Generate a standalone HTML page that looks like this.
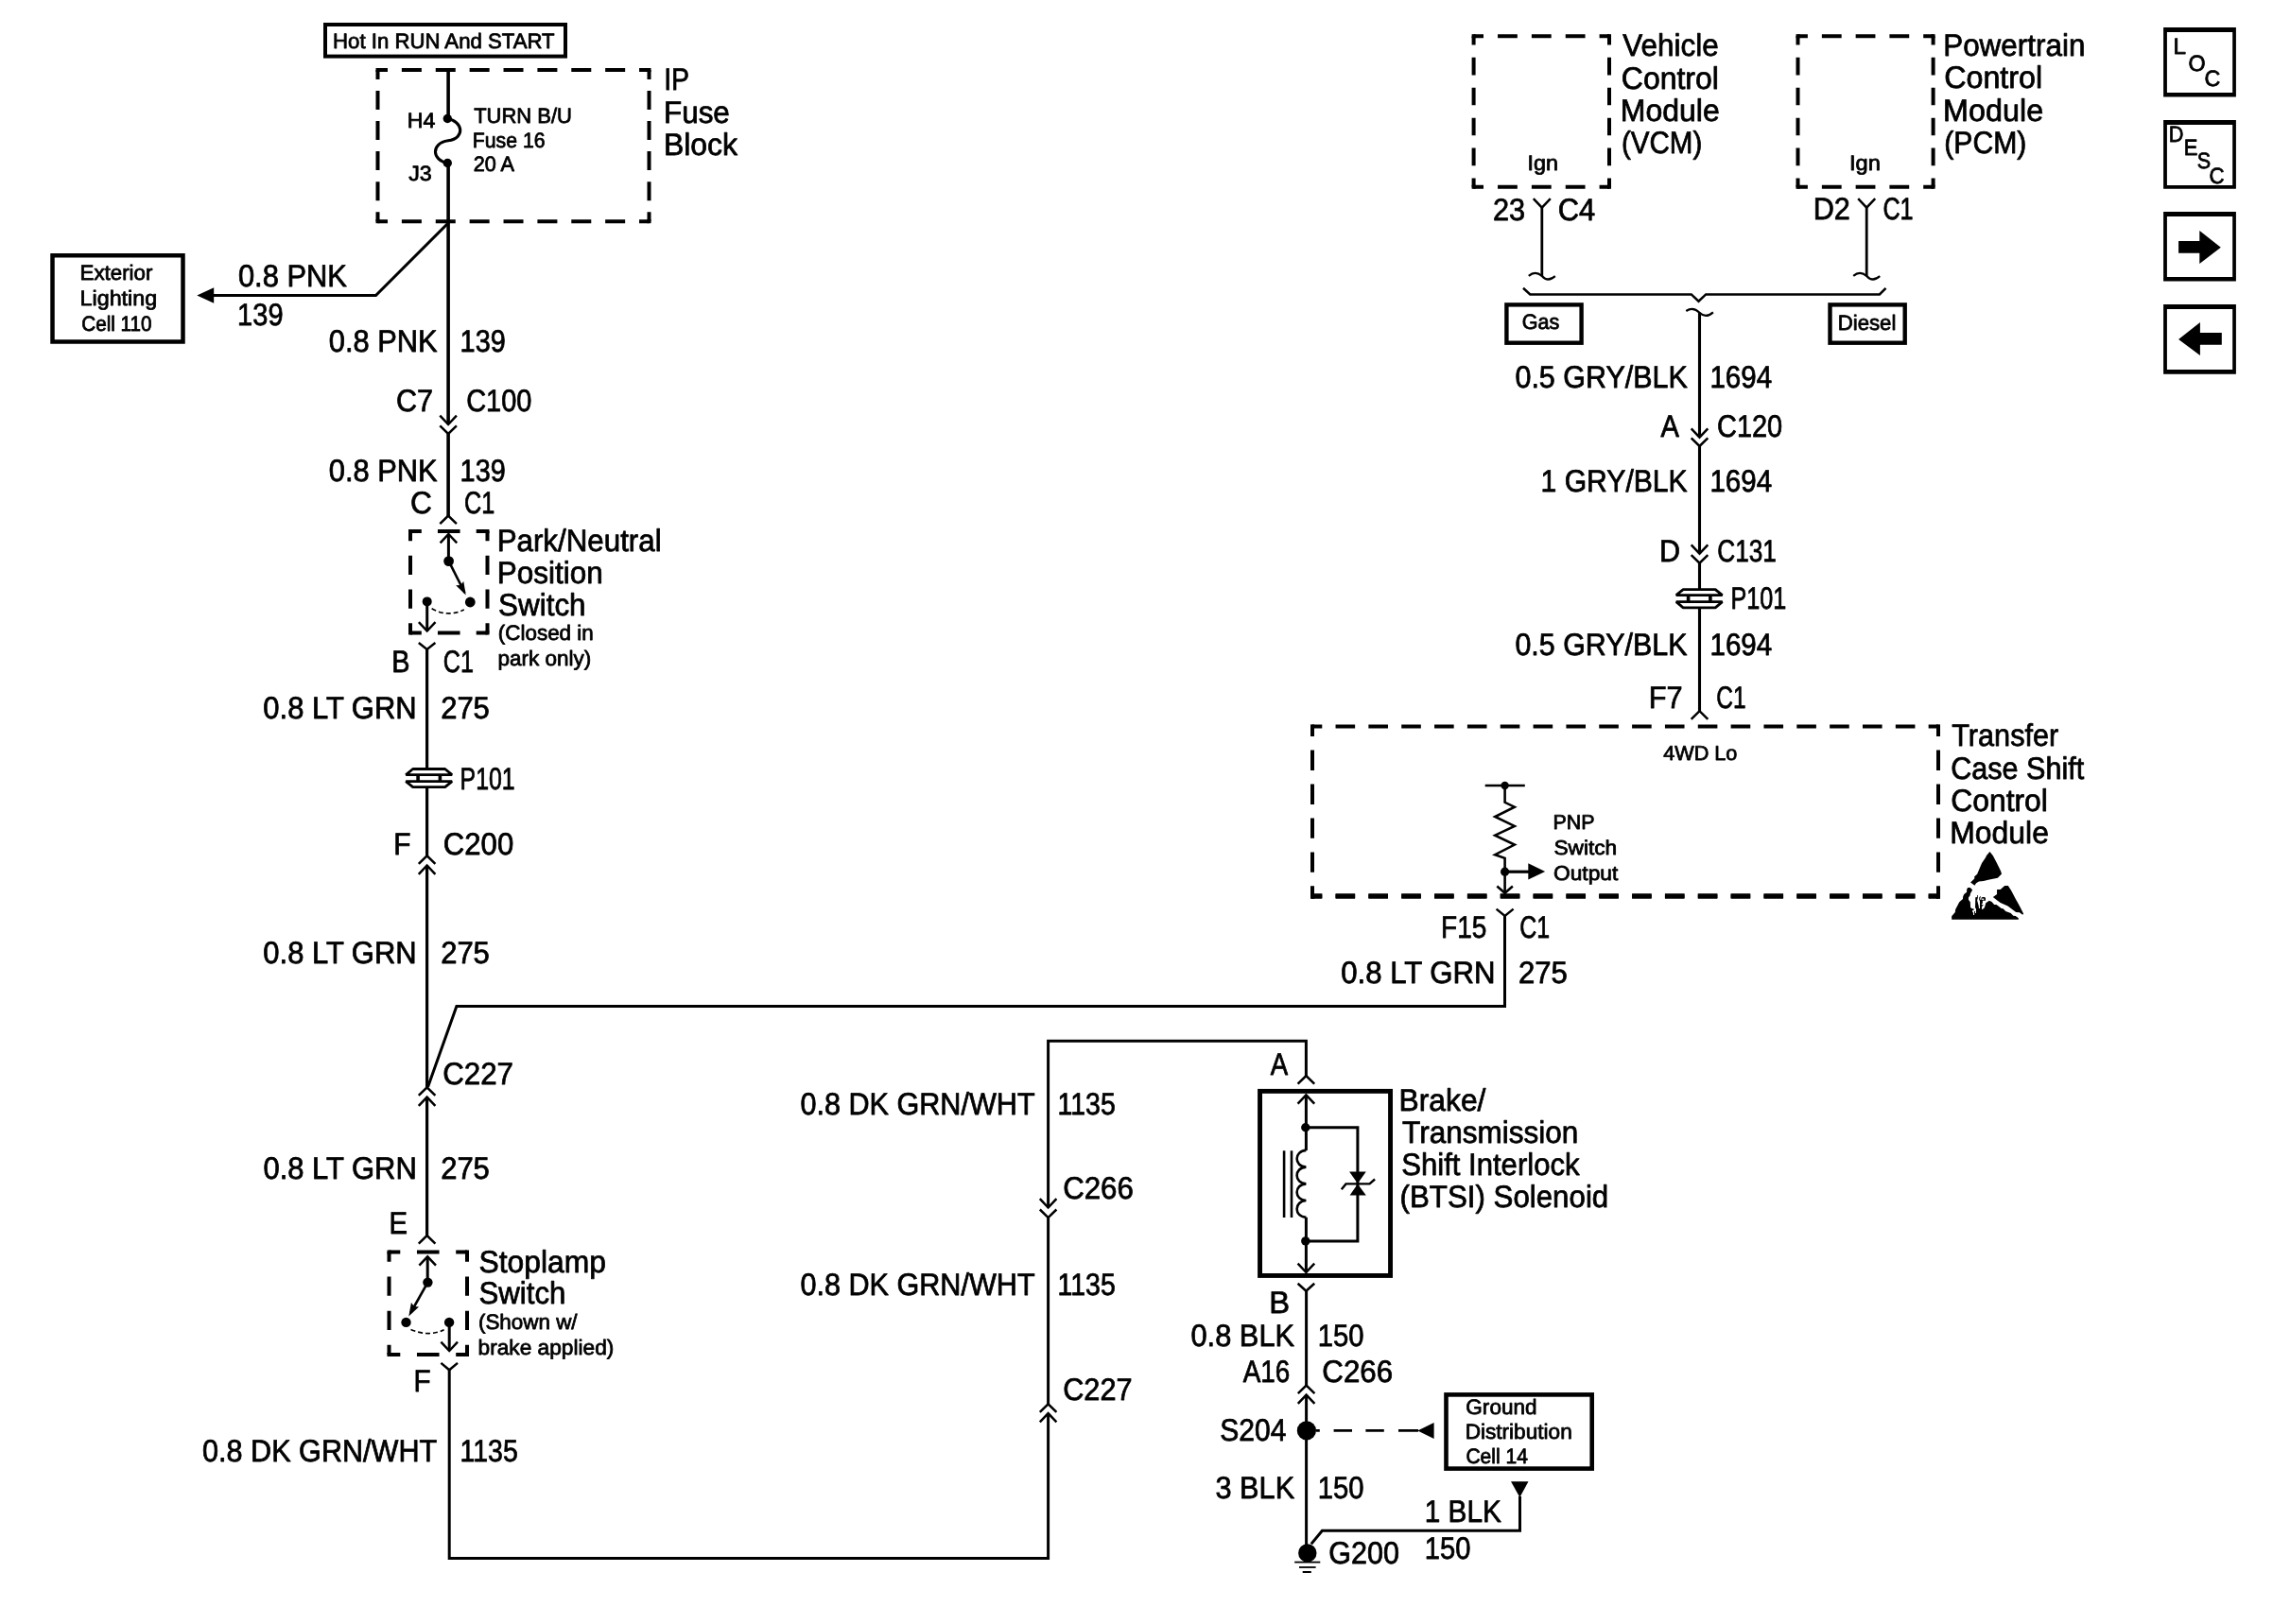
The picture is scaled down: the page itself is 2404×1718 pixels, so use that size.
<!DOCTYPE html>
<html><head><meta charset="utf-8"><title>Wiring diagram</title>
<style>
html,body{margin:0;padding:0;background:#fff;}
svg{display:block;}
text{font-family:"Liberation Sans",sans-serif;fill:#000;stroke:#000;stroke-width:0.8px;stroke-linejoin:round;text-rendering:geometricPrecision;}
</style></head><body>
<svg width="2404" height="1718" viewBox="0 0 2404 1718">
<rect width="2404" height="1718" fill="#fff"/>
<g stroke="#000" fill="none" stroke-linecap="butt" stroke-linejoin="miter">
<rect x="344.0" y="26.0" width="254" height="33.6" stroke-width="4" fill="none"/>
<line x1="399.5" y1="74" x2="686.5" y2="74" stroke-width="4" stroke-dasharray="21.00 14.88" stroke-dashoffset="10.50"/>
<line x1="399.5" y1="234.2" x2="686.5" y2="234.2" stroke-width="4" stroke-dasharray="21.00 14.88" stroke-dashoffset="10.50"/>
<line x1="399.5" y1="74" x2="399.5" y2="234.2" stroke-width="4" stroke-dasharray="20.00 12.04" stroke-dashoffset="10.00"/>
<line x1="686.5" y1="74" x2="686.5" y2="234.2" stroke-width="4" stroke-dasharray="20.00 12.04" stroke-dashoffset="10.00"/>
<rect x="397.5" y="72.0" width="4" height="4" fill="#000" stroke="none"/>
<rect x="684.5" y="72.0" width="4" height="4" fill="#000" stroke="none"/>
<rect x="397.5" y="232.2" width="4" height="4" fill="#000" stroke="none"/>
<rect x="684.5" y="232.2" width="4" height="4" fill="#000" stroke="none"/>
<line x1="474.1" y1="74" x2="474.1" y2="125.5" stroke-width="3.6" />
<circle cx="473.3" cy="125.5" r="4.7" fill="#000" stroke="none"/>
<circle cx="473.3" cy="172.5" r="4.7" fill="#000" stroke="none"/>
<path d="M473.5,125.5 C489,128 493,146 474,148.8 C455,151.5 457,170 473.5,172.5" stroke-width="3.1" fill="none" />
<line x1="474.1" y1="172.5" x2="474.1" y2="449" stroke-width="3.6" />
<path d="M465.3,439.7 L474.1,449 L482.90000000000003,439.7" stroke-width="2.5" fill="none" />
<path d="M465.3,450.4 L474.1,459 L482.90000000000003,450.4" stroke-width="2.5" fill="none" />
<line x1="474.1" y1="458" x2="474.1" y2="546" stroke-width="3.6" />
<path d="M465.3,554.2 L474.1,545.6 L482.90000000000003,554.2" stroke-width="2.5" fill="none" />
<path d="M473.5,236.5 L397.5,312.5 L225,312.5" stroke-width="3" fill="none" />
<polygon points="208.3,312.5 226.2,304.3 226.2,320.8" fill="#000" stroke="none"/>
<rect x="55.5" y="270.25" width="138.0" height="91.25" stroke-width="4.5" fill="none"/>
<line x1="434" y1="562" x2="515.5" y2="562" stroke-width="4" stroke-dasharray="23.60 17.15" stroke-dashoffset="11.80"/>
<line x1="434" y1="669.5" x2="515.5" y2="669.5" stroke-width="4" stroke-dasharray="23.60 17.15" stroke-dashoffset="11.80"/>
<line x1="434" y1="562" x2="434" y2="669.5" stroke-width="4" stroke-dasharray="20.40 15.43" stroke-dashoffset="10.20"/>
<line x1="515.5" y1="562" x2="515.5" y2="669.5" stroke-width="4" stroke-dasharray="20.40 15.43" stroke-dashoffset="10.20"/>
<rect x="432.0" y="560.0" width="4" height="4" fill="#000" stroke="none"/>
<rect x="513.5" y="560.0" width="4" height="4" fill="#000" stroke="none"/>
<rect x="432.0" y="667.5" width="4" height="4" fill="#000" stroke="none"/>
<rect x="513.5" y="667.5" width="4" height="4" fill="#000" stroke="none"/>
<path d="M465.59999999999997,574.3 L474.4,565 L483.2,574.3" stroke-width="2.5" fill="none" />
<line x1="474.4" y1="565" x2="474.4" y2="593.6" stroke-width="3" />
<circle cx="474.6" cy="593.6" r="5.4" fill="#000" stroke="none"/>
<line x1="474.6" y1="593.6" x2="491.5" y2="627" stroke-width="2.6" />
<polygon points="492.7,629.6 482.14,619.33 487.14,618.97 490.29,615.07" fill="#000" stroke="none"/>
<circle cx="497.3" cy="637" r="5.4" fill="#000" stroke="none"/>
<circle cx="451.7" cy="636.4" r="5" fill="#000" stroke="none"/>
<path d="M456.6,643.8 Q473,653.4 490.8,645" stroke-width="1.6" fill="none" stroke-dasharray="5 3"/>
<line x1="451.7" y1="636.4" x2="451.7" y2="667.5" stroke-width="3" />
<path d="M442.9,658.2 L451.7,667.5 L460.5,658.2" stroke-width="2.5" fill="none" />
<path d="M442.8,680 L451.6,686.9 L460.40000000000003,680" stroke-width="2.5" fill="none" />
<line x1="451.6" y1="686.5" x2="451.6" y2="813" stroke-width="3.2" />
<path d="M429.3,819.6 L436.7,813.5 L470.7,813.5 L478.09999999999997,819.6 Z" stroke-width="2.8" fill="none" stroke-linejoin="bevel"/>
<path d="M429.3,826.6 L436.7,832.7 L470.7,832.7 L478.09999999999997,826.6 Z" stroke-width="2.8" fill="none" stroke-linejoin="bevel"/>
<line x1="442.09999999999997" y1="819.6" x2="442.09999999999997" y2="826.6" stroke-width="3.6" />
<line x1="465.4" y1="819.6" x2="465.4" y2="826.6" stroke-width="3.6" />
<line x1="451.6" y1="833" x2="451.6" y2="905.3" stroke-width="3.2" />
<path d="M442.8,913.9 L451.6,905.3 L460.40000000000003,913.9" stroke-width="2.5" fill="none" />
<path d="M442.8,924.8 L451.6,915.5 L460.40000000000003,924.8" stroke-width="2.5" fill="none" />
<line x1="451.6" y1="915.5" x2="451.6" y2="1150.3" stroke-width="3.2" />
<path d="M442.8,1158.8999999999999 L451.6,1150.3 L460.40000000000003,1158.8999999999999" stroke-width="2.5" fill="none" />
<path d="M442.8,1169.8999999999999 L451.6,1160.6 L460.40000000000003,1169.8999999999999" stroke-width="2.5" fill="none" />
<line x1="451.6" y1="1160.6" x2="451.6" y2="1307.1" stroke-width="3.2" />
<path d="M442.8,1315.6999999999998 L451.6,1307.1 L460.40000000000003,1315.6999999999998" stroke-width="2.5" fill="none" />
<path d="M452.6,1149.8 L482.9,1064.4 L1591.5,1064.4 L1591.5,969" stroke-width="3" fill="none" />
<line x1="411.5" y1="1324.5" x2="494" y2="1324.5" stroke-width="4" stroke-dasharray="23.60 17.65" stroke-dashoffset="11.80"/>
<line x1="411.5" y1="1433" x2="494" y2="1433" stroke-width="4" stroke-dasharray="23.60 17.65" stroke-dashoffset="11.80"/>
<line x1="411.5" y1="1324.5" x2="411.5" y2="1433" stroke-width="4" stroke-dasharray="20.40 15.77" stroke-dashoffset="10.20"/>
<line x1="494" y1="1324.5" x2="494" y2="1433" stroke-width="4" stroke-dasharray="20.40 15.77" stroke-dashoffset="10.20"/>
<rect x="409.5" y="1322.5" width="4" height="4" fill="#000" stroke="none"/>
<rect x="492.0" y="1322.5" width="4" height="4" fill="#000" stroke="none"/>
<rect x="409.5" y="1431.0" width="4" height="4" fill="#000" stroke="none"/>
<rect x="492.0" y="1431.0" width="4" height="4" fill="#000" stroke="none"/>
<path d="M443.4,1338.6 L452.2,1329.3 L461.0,1338.6" stroke-width="2.5" fill="none" />
<line x1="452.2" y1="1329.3" x2="452.2" y2="1356.6" stroke-width="3" />
<circle cx="452.4" cy="1356.6" r="5.2" fill="#000" stroke="none"/>
<line x1="452.4" y1="1356.6" x2="434.5" y2="1388.5" stroke-width="2.6" />
<polygon points="432.3,1392.6 434.92,1378.1 438.01,1382.05 443.01,1382.48" fill="#000" stroke="none"/>
<circle cx="429.5" cy="1398.9" r="5.2" fill="#000" stroke="none"/>
<circle cx="475.1" cy="1398.9" r="5.2" fill="#000" stroke="none"/>
<path d="M434.5,1406.5 Q453.5,1414.5 469.6,1406.8" stroke-width="1.6" fill="none" stroke-dasharray="5 3"/>
<line x1="475.2" y1="1398.9" x2="475.2" y2="1429" stroke-width="3" />
<path d="M466.4,1419.7 L475.2,1429 L484.0,1419.7" stroke-width="2.5" fill="none" />
<path d="M466.4,1441.9 L475.2,1449.3 L484.0,1441.9" stroke-width="2.5" fill="none" />
<path d="M475.2,1449 L475.2,1648.5 L1108.6,1648.5 L1108.6,1495.1" stroke-width="3" fill="none" />
<path d="M1099.8,1504.3999999999999 L1108.6,1495.1 L1117.3999999999999,1504.3999999999999" stroke-width="2.5" fill="none" />
<path d="M1099.8,1493.8999999999999 L1108.6,1485.3 L1117.3999999999999,1493.8999999999999" stroke-width="2.5" fill="none" />
<line x1="1108.6" y1="1485.3" x2="1108.6" y2="1288.1" stroke-width="3" />
<path d="M1099.8,1279.5 L1108.6,1288.1 L1117.3999999999999,1279.5" stroke-width="2.5" fill="none" />
<path d="M1099.8,1268.2 L1108.6,1277.5 L1117.3999999999999,1268.2" stroke-width="2.5" fill="none" />
<path d="M1108.6,1277.5 L1108.6,1101.2 L1381.4,1101.2 L1381.4,1138.1" stroke-width="3" fill="none" />
<path d="M1372.6000000000001,1146.6999999999998 L1381.4,1138.1 L1390.2,1146.6999999999998" stroke-width="2.5" fill="none" />
<rect x="1332.55" y="1154.3500000000001" width="138.00000000000009" height="195.1" stroke-width="4.9" fill="none"/>
<path d="M1372.6000000000001,1167.7 L1381.4,1158.4 L1390.2,1167.7" stroke-width="2.5" fill="none" />
<line x1="1381.4" y1="1158.4" x2="1381.4" y2="1217" stroke-width="3" />
<circle cx="1380.8" cy="1192.7" r="4.7" fill="#000" stroke="none"/>
<circle cx="1380.8" cy="1312.9" r="4.7" fill="#000" stroke="none"/>
<path d="M1380.8,1192.7 L1435.9,1192.7 L1435.9,1312.9 L1380.8,1312.9" stroke-width="3" fill="none" />
<path d="M1381.4,1216.9 C1368.4,1217.4 1368.4,1234.125 1381.4,1234.625 C1368.4,1235.125 1368.4,1251.85 1381.4,1252.35 C1368.4,1252.85 1368.4,1269.5749999999998 1381.4,1270.0749999999998 C1368.4,1270.5749999999998 1368.4,1287.2999999999997 1381.4,1287.7999999999997 " stroke-width="2.6" fill="none" />
<line x1="1381.4" y1="1287.8" x2="1381.4" y2="1346" stroke-width="3" />
<path d="M1372.6000000000001,1336.7 L1381.4,1346 L1390.2,1336.7" stroke-width="2.5" fill="none" />
<line x1="1358.1" y1="1217.3" x2="1358.1" y2="1288" stroke-width="2.6" />
<line x1="1366" y1="1217.3" x2="1366" y2="1288" stroke-width="2.6" />
<polygon points="1427.1,1239.6 1444.8,1239.6 1435.9,1252" fill="#000" stroke="none"/>
<polygon points="1427.6,1264.4 1444.8,1264.4 1435.9,1252.6" fill="#000" stroke="none"/>
<path d="M1418.8,1258.3 L1423.5,1252.4 L1448.5,1252.4 L1454.1,1247.5" stroke-width="2.4" fill="none" />
<path d="M1372.6000000000001,1357.8 L1381.4,1365.7 L1390.2,1357.8" stroke-width="2.5" fill="none" />
<line x1="1381.6" y1="1365.5" x2="1381.6" y2="1465.5" stroke-width="3" />
<path d="M1372.8,1474.1 L1381.6,1465.5 L1390.3999999999999,1474.1" stroke-width="2.5" fill="none" />
<path d="M1372.8,1484.8999999999999 L1381.6,1475.6 L1390.3999999999999,1484.8999999999999" stroke-width="2.5" fill="none" />
<line x1="1381.6" y1="1475.6" x2="1381.6" y2="1643" stroke-width="3" />
<circle cx="1381.9" cy="1513.4" r="10.1" fill="#000" stroke="none"/>
<path d="M1392,1513.4 H1395.8 M1410.6,1513.4 H1430 M1444.4,1513.4 H1463.8 M1479,1513.4 H1500" stroke-width="2.6" fill="none"/>
<polygon points="1499.3,1513.4 1516.6,1505 1516.6,1522" fill="#000" stroke="none"/>
<rect x="1529.5" y="1475.3999999999999" width="154.19999999999996" height="78.20000000000019" stroke-width="4.6" fill="none"/>
<polygon points="1598,1567.3 1616.5,1567.3 1607.4,1584" fill="#000" stroke="none"/>
<path d="M1607.5,1583 L1607.5,1619.2 L1398.4,1619.2 L1386.8,1633.4" stroke-width="3" fill="none" />
<circle cx="1382.8" cy="1642.9" r="9.7" fill="#000" stroke="none"/>
<line x1="1369.2" y1="1652.6" x2="1396.3" y2="1652.6" stroke-width="1.8" />
<line x1="1374" y1="1658" x2="1391.6" y2="1658" stroke-width="1.8" />
<line x1="1377.7" y1="1663" x2="1386.8" y2="1663" stroke-width="2" />
<line x1="1558.6" y1="38.2" x2="1702" y2="38.2" stroke-width="4" stroke-dasharray="20.80 15.05" stroke-dashoffset="10.40"/>
<line x1="1558.6" y1="197.8" x2="1702" y2="197.8" stroke-width="4" stroke-dasharray="20.80 15.05" stroke-dashoffset="10.40"/>
<line x1="1558.6" y1="38.2" x2="1558.6" y2="197.8" stroke-width="4" stroke-dasharray="18.60 13.32" stroke-dashoffset="9.30"/>
<line x1="1702" y1="38.2" x2="1702" y2="197.8" stroke-width="4" stroke-dasharray="18.60 13.32" stroke-dashoffset="9.30"/>
<rect x="1556.6" y="36.2" width="4" height="4" fill="#000" stroke="none"/>
<rect x="1700.0" y="36.2" width="4" height="4" fill="#000" stroke="none"/>
<rect x="1556.6" y="195.8" width="4" height="4" fill="#000" stroke="none"/>
<rect x="1700.0" y="195.8" width="4" height="4" fill="#000" stroke="none"/>
<line x1="1901.5" y1="38.2" x2="2044.6" y2="38.2" stroke-width="4" stroke-dasharray="20.80 14.97" stroke-dashoffset="10.40"/>
<line x1="1901.5" y1="197.8" x2="2044.6" y2="197.8" stroke-width="4" stroke-dasharray="20.80 14.97" stroke-dashoffset="10.40"/>
<line x1="1901.5" y1="38.2" x2="1901.5" y2="197.8" stroke-width="4" stroke-dasharray="18.60 13.32" stroke-dashoffset="9.30"/>
<line x1="2044.6" y1="38.2" x2="2044.6" y2="197.8" stroke-width="4" stroke-dasharray="18.60 13.32" stroke-dashoffset="9.30"/>
<rect x="1899.5" y="36.2" width="4" height="4" fill="#000" stroke="none"/>
<rect x="2042.6" y="36.2" width="4" height="4" fill="#000" stroke="none"/>
<rect x="1899.5" y="195.8" width="4" height="4" fill="#000" stroke="none"/>
<rect x="2042.6" y="195.8" width="4" height="4" fill="#000" stroke="none"/>
<path d="M1621.8,210.2 L1630.8,219.7 L1639.8,210.2" stroke-width="2.5" fill="none" />
<line x1="1630.8" y1="219.5" x2="1630.8" y2="292.3" stroke-width="2.8" />
<path d="M1616.8,291.8 C1621.8,287.5 1626.8,288.5 1630.8,292 C1634.8,296.5 1639.8,296.5 1644.8,292.2" stroke-width="2.2" fill="none" />
<path d="M1965.2,210.2 L1974.2,219.7 L1983.2,210.2" stroke-width="2.5" fill="none" />
<line x1="1974.2" y1="219.5" x2="1974.2" y2="292.3" stroke-width="2.8" />
<path d="M1960.2,291.8 C1965.2,287.5 1970.2,288.5 1974.2,292 C1978.2,296.5 1983.2,296.5 1988.2,292.2" stroke-width="2.2" fill="none" />
<path d="M1611,304.8 L1618.3,311.4 L1788.8,311.4 L1796.5,318.7 L1804.2,311.4 L1987.9,311.4 L1994.5,304.8" stroke-width="2.5" fill="none" />
<path d="M1783.3,329 C1788.5,325.5 1793.5,326.8 1797.5,330.8 C1801.5,334.8 1806.5,335 1811.9,330.3" stroke-width="2.2" fill="none" />
<rect x="1593.4" y="322.4" width="79.1999999999999" height="40.29999999999999" stroke-width="4.4" fill="none"/>
<rect x="1935.5" y="322.4" width="79.20000000000013" height="40.29999999999999" stroke-width="4.4" fill="none"/>
<line x1="1797.5" y1="330.8" x2="1797.5" y2="462.7" stroke-width="3.1" />
<path d="M1788.7,453.4 L1797.5,462.7 L1806.3,453.4" stroke-width="2.5" fill="none" />
<path d="M1788.7,463.29999999999995 L1797.5,471.9 L1806.3,463.29999999999995" stroke-width="2.5" fill="none" />
<line x1="1797.5" y1="471" x2="1797.5" y2="585.7" stroke-width="3.1" />
<path d="M1788.7,576.4000000000001 L1797.5,585.7 L1806.3,576.4000000000001" stroke-width="2.5" fill="none" />
<path d="M1788.7,587.1 L1797.5,595.7 L1806.3,587.1" stroke-width="2.5" fill="none" />
<line x1="1797.5" y1="595" x2="1797.5" y2="623.5" stroke-width="3.1" />
<path d="M1772.8,629.7 L1780.2,623.6 L1814.2,623.6 L1821.6000000000001,629.7 Z" stroke-width="2.8" fill="none" stroke-linejoin="bevel"/>
<path d="M1772.8,636.7 L1780.2,642.8000000000001 L1814.2,642.8000000000001 L1821.6000000000001,636.7 Z" stroke-width="2.8" fill="none" stroke-linejoin="bevel"/>
<line x1="1785.6000000000001" y1="629.7" x2="1785.6000000000001" y2="636.7" stroke-width="3.6" />
<line x1="1808.9" y1="629.7" x2="1808.9" y2="636.7" stroke-width="3.6" />
<line x1="1797.5" y1="643" x2="1797.5" y2="752.2" stroke-width="3.1" />
<path d="M1788.7,760.8000000000001 L1797.5,752.2 L1806.3,760.8000000000001" stroke-width="2.5" fill="none" />
<line x1="1388" y1="768.4" x2="2050" y2="768.4" stroke-width="4" stroke-dasharray="20.60 14.24" stroke-dashoffset="10.30"/>
<line x1="1388" y1="948" x2="2050" y2="948" stroke-width="4" stroke-dasharray="20.60 14.24" stroke-dashoffset="10.30"/>
<line x1="1388" y1="768.4" x2="1388" y2="948" stroke-width="4" stroke-dasharray="21.40 14.52" stroke-dashoffset="10.70"/>
<line x1="2050" y1="768.4" x2="2050" y2="948" stroke-width="4" stroke-dasharray="21.40 14.52" stroke-dashoffset="10.70"/>
<rect x="1386.0" y="766.4" width="4" height="4" fill="#000" stroke="none"/>
<rect x="2048.0" y="766.4" width="4" height="4" fill="#000" stroke="none"/>
<rect x="1386.0" y="946.0" width="4" height="4" fill="#000" stroke="none"/>
<rect x="2048.0" y="946.0" width="4" height="4" fill="#000" stroke="none"/>
<line x1="1388" y1="948" x2="2050" y2="948" stroke-width="5.7" stroke-dasharray="20.60 14.24" stroke-dashoffset="10.30"/>
<rect x="1386" y="945.15" width="4" height="5.7" fill="#000" stroke="none"/><rect x="2048" y="945.15" width="4" height="5.7" fill="#000" stroke="none"/>
<line x1="1570.7" y1="831" x2="1612.8" y2="831" stroke-width="2.6" />
<circle cx="1591.6" cy="831" r="4.2" fill="#000" stroke="none"/>
<path d="M1591.6,831 L1591.6,848.8 L1601.8,853.7 L1581.2,864 L1601.8,873.9 L1581.2,883.7 L1601.8,893.6 L1581.2,904.2 L1591.6,907.9 L1591.6,944.5" stroke-width="2.6" fill="none" stroke-linejoin="miter"/>
<circle cx="1591.6" cy="922.2" r="4.6" fill="#000" stroke="none"/>
<line x1="1591.6" y1="922.2" x2="1617" y2="922.2" stroke-width="3.2" />
<polygon points="1634.2,922 1616.3,913.3 1616.3,930.6" fill="#000" stroke="none"/>
<path d="M1583.3,937.5 L1591.6,944.8 L1599.8999999999999,937.5" stroke-width="2.5" fill="none" />
<path d="M1582.6,961.6 L1591.6,969 L1600.6,961.6" stroke-width="2.5" fill="none" />
<polygon points="2104.46,901.02 2107.87,905.21 2112.05,913.32 2115.98,921.17 2117.03,924.57 2112.84,928.76 2107.87,929.81 2102.89,930.85 2097.92,931.9 2092.95,932.42 2090.07,934.26 2088.5,936.87 2084.05,933.47 2088.24,929.55 2088.24,927.19 2091.12,924.84 2094.26,917.25 2096.09,913.06 2100.01,907.3 2101.06,904.95" fill="#000" stroke="none"/>
<polygon points="2120.17,937.03 2123.83,937.03 2127.23,942.37 2131.94,951.27 2135.87,958.33 2140.06,966.45 2139.27,967.86 2135.87,965.14 2132.2,964.88 2123.57,958.6 2115.72,954.93 2112.58,952.84 2107.87,948.91 2112.05,946.03 2112.05,941.06 2115.72,941.06" fill="#000" stroke="none"/>
<polygon points="2081.17,939.12 2083.79,939.12 2086.14,941.58 2084.05,944.99 2083.53,947.6 2081.96,949.44 2081.96,951.79 2083.79,954.15 2084.05,959.9 2085.88,961.21 2087.71,961.47 2087.45,963.05 2086.14,963.05 2086.14,964.62 2087.03,965.66 2087.03,968.02 2088.08,968.02 2088.08,964.09 2089.02,964.09 2089.02,965.92 2089.96,965.92 2089.96,960.95 2089.02,960.43 2089.28,949.17 2091.12,948.91 2091.12,947.08 2091.9,947.08 2091.9,949.44 2091.12,952.58 2092.69,958.33 2092.95,960.95 2094.0,960.95 2094.0,953.1 2093.21,952.05 2093.21,949.44 2094.26,948.13 2095.04,948.39 2094.26,949.96 2094.26,951.79 2095.3,952.05 2095.57,949.7 2096.87,948.91 2098.97,948.91 2100.01,949.96 2100.01,952.84 2096.87,952.84 2096.87,955.72 2095.83,955.98 2095.83,957.03 2097.92,957.29 2096.09,959.12 2096.09,962.0 2096.87,962.0 2098.97,959.9 2100.28,955.19 2103.94,952.84 2106.56,953.89 2109.17,957.03 2111.53,957.03 2116.76,960.95 2118.6,961.21 2121.21,964.09 2126.71,965.92 2129.33,968.8 2131.68,969.06 2134.82,971.16 2134.82,972.83 2064.16,972.83 2064.16,969.22 2067.82,964.88 2068.09,962.26 2072.27,954.15 2075.94,951.01 2076.2,948.13 2077.25,946.03 2080.12,943.68 2080.12,941.06" fill="#000" stroke="none"/>
<polygon points="2096.09,950.59 2098.34,950.59 2098.34,951.84 2096.09,951.84" fill="#fff" stroke="none"/>
<path d="M2288.1,29.1 H2364.9 V102.6 H2288.1 Z M2291.9,34 V98.1 H2361.2 V34 Z" fill="#000" stroke="none" fill-rule="evenodd"/>
<path d="M2288.1,127 H2364.9 V199.7 H2288.1 Z M2291.9,132 V196 H2361.2 V132 Z" fill="#000" stroke="none" fill-rule="evenodd"/>
<path d="M2288.1,224.1 H2364.9 V297.6 H2288.1 Z M2291.9,229 V293.1 H2361.2 V229 Z" fill="#000" stroke="none" fill-rule="evenodd"/>
<path d="M2288.1,322 H2364.9 V395.7 H2288.1 Z M2291.9,327 V391 H2361.2 V327 Z" fill="#000" stroke="none" fill-rule="evenodd"/>
<polygon points="2304.1,255.1 2326.3,255.1 2326.3,244.1 2348.8,261.7 2326.3,278.9 2326.3,267.8 2304.1,267.8" fill="#000" stroke="none"/>
<polygon points="2349.8,352 2326.9,352 2326.9,341.1 2304.1,359 2326.9,376 2326.9,364.8 2349.8,364.8" fill="#000" stroke="none"/>
</g>
<g opacity="0.999">
<text transform="translate(352.07,51.40) scale(0.9901,1)" font-size="22.4" stroke-width="1.0">Hot In RUN And START</text>
<text transform="translate(430.69,135.30) scale(1.0332,1)" font-size="22.4" stroke-width="1.0">H4</text>
<text transform="translate(432.14,191.00) scale(1.0357,1)" font-size="22.4" stroke-width="1.0">J3</text>
<text transform="translate(501.16,130.10) scale(0.9812,1)" font-size="22.4" stroke-width="1.0">TURN B/U</text>
<text transform="translate(499.84,155.50) scale(0.9479,1)" font-size="22.4" stroke-width="1.0">Fuse 16</text>
<text transform="translate(500.69,181.10) scale(0.9659,1)" font-size="22.4" stroke-width="1.0">20 A</text>
<text transform="translate(702.16,95.30) scale(0.8724,1)" font-size="32.8">IP</text>
<text transform="translate(701.94,130.10) scale(0.9590,1)" font-size="32.8">Fuse</text>
<text transform="translate(701.90,163.80) scale(0.9737,1)" font-size="32.8">Block</text>
<text transform="translate(84.56,295.70) scale(0.9958,1)" font-size="22.4" stroke-width="1.0">Exterior</text>
<text transform="translate(84.58,322.90) scale(1.0403,1)" font-size="22.4" stroke-width="1.0">Lighting</text>
<text transform="translate(86.23,350.40) scale(0.9225,1)" font-size="22.4" stroke-width="1.0">Cell 110</text>
<text transform="translate(251.94,302.95) scale(0.9414,1)" font-size="32.8">0.8 PNK</text>
<text transform="translate(251.09,344.20) scale(0.8852,1)" font-size="32.8">139</text>
<text transform="translate(347.74,371.60) scale(0.9406,1)" font-size="32.8">0.8 PNK</text>
<text transform="translate(486.60,371.60) scale(0.8803,1)" font-size="32.8">139</text>
<text transform="translate(418.97,435.30) scale(0.9318,1)" font-size="32.8">C7</text>
<text transform="translate(493.14,435.30) scale(0.8848,1)" font-size="32.8">C100</text>
<text transform="translate(347.74,508.50) scale(0.9406,1)" font-size="32.8">0.8 PNK</text>
<text transform="translate(486.60,508.50) scale(0.8803,1)" font-size="32.8">139</text>
<text transform="translate(433.91,543.30) scale(0.9661,1)" font-size="32.8">C</text>
<text transform="translate(490.92,543.30) scale(0.7706,1)" font-size="32.8">C1</text>
<text transform="translate(525.65,583.10) scale(0.9546,1)" font-size="32.8">Park/Neutral</text>
<text transform="translate(525.64,616.90) scale(0.9601,1)" font-size="32.8">Position</text>
<text transform="translate(527.12,650.60) scale(0.9569,1)" font-size="32.8">Switch</text>
<text transform="translate(526.85,677.20) scale(1.0007,1)" font-size="22.4" stroke-width="1.0">(Closed in</text>
<text transform="translate(526.49,704.00) scale(1.0053,1)" font-size="22.4" stroke-width="1.0">park only)</text>
<text transform="translate(414.14,710.60) scale(0.8808,1)" font-size="32.8">B</text>
<text transform="translate(468.82,710.60) scale(0.7680,1)" font-size="32.8">C1</text>
<text transform="translate(278.33,759.60) scale(0.9440,1)" font-size="32.8">0.8 LT GRN</text>
<text transform="translate(466.15,759.60) scale(0.9449,1)" font-size="32.8">275</text>
<text transform="translate(486.55,834.90) scale(0.7592,1)" font-size="32.8">P101</text>
<text transform="translate(416.17,903.60) scale(0.9085,1)" font-size="32.8">F</text>
<text transform="translate(468.84,903.80) scale(0.9480,1)" font-size="32.8">C200</text>
<text transform="translate(278.33,1018.60) scale(0.9440,1)" font-size="32.8">0.8 LT GRN</text>
<text transform="translate(466.15,1018.60) scale(0.9449,1)" font-size="32.8">275</text>
<text transform="translate(468.13,1147.20) scale(0.9544,1)" font-size="32.8">C227</text>
<text transform="translate(278.43,1247.40) scale(0.9440,1)" font-size="32.8">0.8 LT GRN</text>
<text transform="translate(466.15,1247.40) scale(0.9449,1)" font-size="32.8">275</text>
<text transform="translate(411.41,1305.00) scale(0.8920,1)" font-size="32.8">E</text>
<text transform="translate(506.41,1345.60) scale(0.9705,1)" font-size="32.8">Stoplamp</text>
<text transform="translate(506.42,1379.40) scale(0.9516,1)" font-size="32.8">Switch</text>
<text transform="translate(505.95,1406.10) scale(1.0010,1)" font-size="22.4" stroke-width="1.0">(Shown w/</text>
<text transform="translate(505.58,1432.80) scale(1.0129,1)" font-size="22.4" stroke-width="1.0">brake applied)</text>
<text transform="translate(437.39,1472.40) scale(0.9024,1)" font-size="32.8">F</text>
<text transform="translate(214.04,1546.40) scale(0.9331,1)" font-size="32.8">0.8 DK GRN/WHT</text>
<text transform="translate(486.52,1546.40) scale(0.8682,1)" font-size="32.8">1135</text>
<text transform="translate(846.44,1179.00) scale(0.9328,1)" font-size="32.8">0.8 DK GRN/WHT</text>
<text transform="translate(1118.52,1179.00) scale(0.8682,1)" font-size="32.8">1135</text>
<text transform="translate(1124.13,1267.70) scale(0.9531,1)" font-size="32.8">C266</text>
<text transform="translate(846.44,1370.10) scale(0.9328,1)" font-size="32.8">0.8 DK GRN/WHT</text>
<text transform="translate(1118.52,1370.10) scale(0.8682,1)" font-size="32.8">1135</text>
<text transform="translate(1124.16,1481.00) scale(0.9359,1)" font-size="32.8">C227</text>
<text transform="translate(1343.70,1136.80) scale(0.8395,1)" font-size="32.8">A</text>
<text transform="translate(1342.14,1388.60) scale(0.9979,1)" font-size="32.8">B</text>
<text transform="translate(1479.52,1174.90) scale(0.9692,1)" font-size="32.8">Brake/</text>
<text transform="translate(1483.11,1208.70) scale(0.9611,1)" font-size="32.8">Transmission</text>
<text transform="translate(1482.23,1243.20) scale(0.9476,1)" font-size="32.8">Shift Interlock</text>
<text transform="translate(1480.53,1277.30) scale(0.9534,1)" font-size="32.8">(BTSI) Solenoid</text>
<text transform="translate(1259.44,1424.00) scale(0.9399,1)" font-size="32.8">0.8 BLK</text>
<text transform="translate(1393.77,1424.00) scale(0.8928,1)" font-size="32.8">150</text>
<text transform="translate(1314.70,1462.00) scale(0.8487,1)" font-size="32.8">A16</text>
<text transform="translate(1398.33,1462.00) scale(0.9544,1)" font-size="32.8">C266</text>
<text transform="translate(1290.16,1524.30) scale(0.9163,1)" font-size="32.8">S204</text>
<text transform="translate(1550.34,1496.10) scale(1.0068,1)" font-size="22.4" stroke-width="1.0">Ground</text>
<text transform="translate(1549.63,1521.60) scale(1.0098,1)" font-size="22.4" stroke-width="1.0">Distribution</text>
<text transform="translate(1550.41,1547.60) scale(0.9395,1)" font-size="22.4" stroke-width="1.0">Cell 14</text>
<text transform="translate(1285.44,1585.10) scale(0.9366,1)" font-size="32.8">3 BLK</text>
<text transform="translate(1393.77,1585.10) scale(0.8928,1)" font-size="32.8">150</text>
<text transform="translate(1506.74,1609.80) scale(0.9086,1)" font-size="32.8">1 BLK</text>
<text transform="translate(1506.78,1648.50) scale(0.8890,1)" font-size="32.8">150</text>
<text transform="translate(1405.37,1654.20) scale(0.9309,1)" font-size="32.8">G200</text>
<text transform="translate(1716.30,59.30) scale(0.9594,1)" font-size="32.8">Vehicle</text>
<text transform="translate(1714.80,93.50) scale(0.9752,1)" font-size="32.8">Control</text>
<text transform="translate(1713.80,127.60) scale(0.9760,1)" font-size="32.8">Module</text>
<text transform="translate(1714.91,162.00) scale(0.9017,1)" font-size="32.8">(VCM)</text>
<text transform="translate(2055.20,59.10) scale(0.9578,1)" font-size="32.8">Powertrain</text>
<text transform="translate(2056.14,93.30) scale(0.9845,1)" font-size="32.8">Control</text>
<text transform="translate(2055.12,127.50) scale(0.9857,1)" font-size="32.8">Module</text>
<text transform="translate(2056.24,161.90) scale(0.9202,1)" font-size="32.8">(PCM)</text>
<text transform="translate(1615.58,180.30) scale(1.0415,1)" font-size="22.4" stroke-width="1.0">Ign</text>
<text transform="translate(1955.95,180.10) scale(1.0558,1)" font-size="22.4" stroke-width="1.0">Ign</text>
<text transform="translate(1578.96,232.60) scale(0.9370,1)" font-size="32.8">23</text>
<text transform="translate(1647.75,232.60) scale(0.9400,1)" font-size="32.8">C4</text>
<text transform="translate(1917.71,231.50) scale(0.9333,1)" font-size="32.8">D2</text>
<text transform="translate(1991.42,231.50) scale(0.7680,1)" font-size="32.8">C1</text>
<text transform="translate(1609.69,347.60) scale(0.9636,1)" font-size="22.4" stroke-width="1.0">Gas</text>
<text transform="translate(1943.77,349.10) scale(0.9895,1)" font-size="22.4" stroke-width="1.0">Diesel</text>
<text transform="translate(1602.45,409.90) scale(0.9286,1)" font-size="32.8">0.5 GRY/BLK</text>
<text transform="translate(1808.45,409.70) scale(0.9001,1)" font-size="32.8">1694</text>
<text transform="translate(1756.40,462.00) scale(0.8849,1)" font-size="32.8">A</text>
<text transform="translate(1816.04,462.20) scale(0.8822,1)" font-size="32.8">C120</text>
<text transform="translate(1629.52,519.50) scale(0.9187,1)" font-size="32.8">1 GRY/BLK</text>
<text transform="translate(1808.45,519.50) scale(0.9001,1)" font-size="32.8">1694</text>
<text transform="translate(1755.12,594.00) scale(0.9306,1)" font-size="32.8">D</text>
<text transform="translate(1816.17,594.00) scale(0.8008,1)" font-size="32.8">C131</text>
<text transform="translate(1830.43,644.00) scale(0.7688,1)" font-size="32.8">P101</text>
<text transform="translate(1602.45,692.80) scale(0.9270,1)" font-size="32.8">0.5 GRY/BLK</text>
<text transform="translate(1808.45,692.80) scale(0.9016,1)" font-size="32.8">1694</text>
<text transform="translate(1743.80,748.70) scale(0.9364,1)" font-size="32.8">F7</text>
<text transform="translate(1815.25,748.70) scale(0.7475,1)" font-size="32.8">C1</text>
<text transform="translate(1759.26,803.50) scale(1.0058,1)" font-size="21.5" stroke-width="1.0">4WD Lo</text>
<text transform="translate(2064.22,789.30) scale(0.9349,1)" font-size="32.8">Transfer</text>
<text transform="translate(2063.27,823.60) scale(0.9313,1)" font-size="32.8">Case Shift</text>
<text transform="translate(2063.21,858.30) scale(0.9712,1)" font-size="32.8">Control</text>
<text transform="translate(2062.21,892.30) scale(0.9731,1)" font-size="32.8">Module</text>
<text transform="translate(1642.43,876.70) scale(0.9946,1)" font-size="21.5" stroke-width="1.0">PNP</text>
<text transform="translate(1643.39,903.80) scale(1.0546,1)" font-size="21.5" stroke-width="1.0">Switch</text>
<text transform="translate(1643.04,930.90) scale(1.0565,1)" font-size="21.5" stroke-width="1.0">Output</text>
<text transform="translate(1524.11,992.30) scale(0.8532,1)" font-size="32.8">F15</text>
<text transform="translate(1607.13,992.30) scale(0.7603,1)" font-size="32.8">C1</text>
<text transform="translate(1418.23,1039.70) scale(0.9499,1)" font-size="32.8">0.8 LT GRN</text>
<text transform="translate(1605.94,1039.70) scale(0.9487,1)" font-size="32.8">275</text>
<text transform="translate(2298.50,57.30) scale(1.0243,1)" font-size="23.7" stroke-width="1.0">L</text>
<text transform="translate(2314.41,75.10) scale(0.9820,1)" font-size="23.7" stroke-width="1.0">O</text>
<text transform="translate(2331.41,90.80) scale(0.9814,1)" font-size="23.7" stroke-width="1.0">C</text>
<text transform="translate(2293.81,150.20) scale(0.9140,1)" font-size="23.7" stroke-width="1.0">D</text>
<text transform="translate(2309.79,163.60) scale(0.9259,1)" font-size="23.7" stroke-width="1.0">E</text>
<text transform="translate(2323.83,178.20) scale(0.9096,1)" font-size="23.7" stroke-width="1.0">S</text>
<text transform="translate(2336.56,194.00) scale(0.9353,1)" font-size="23.7" stroke-width="1.0">C</text>
</g>
</svg>
</body></html>
